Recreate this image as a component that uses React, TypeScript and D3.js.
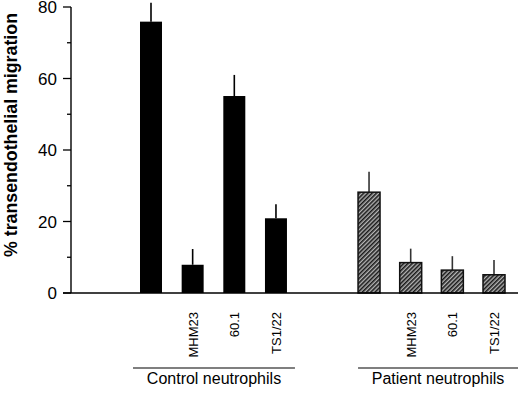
import React from "react";
import * as d3 from "d3";

const groups = ["Control neutrophils", "Patient neutrophils"];
const treatments = ["none", "MHM23", "60.1", "TS1/22"];
const treatmentLabels = ["", "MHM23", "60.1", "TS1/22"];
const controlValues = [75.9, 7.9, 55.1, 20.9];
const controlErrors = [5.3, 4.4, 5.9, 3.9];
const patientValues = [28.2, 8.5, 6.4, 5.1];
const patientErrors = [5.7, 3.9, 3.9, 4.1];
const yTicks = [0, 20, 40, 60, 80];
const yMinorTicks = [10, 30, 50, 70];

const W = 520;
const H = 393;
const FONT = "'Liberation Sans', Arial, Helvetica, sans-serif";

export default function App() {
  const y = d3.scaleLinear().domain([0, 80]).range([293, 7]);
  const axisX = 71;
  const outer = d3.scaleBand<string>().domain(groups).range([140, 505]).paddingInner(0.326).paddingOuter(0);
  const inner = d3
    .scaleBand<string>()
    .domain(treatments)
    .range([0, outer.bandwidth()])
    .paddingInner(0.472)
    .paddingOuter(0);

  const series = [
    { group: groups[0], values: controlValues, errors: controlErrors, fill: "#000", err: "#000" },
    { group: groups[1], values: patientValues, errors: patientErrors, fill: "url(#hatch)", err: "#333" },
  ];

  const underlineExt: [number, number][] = [
    [-7, 8],
    [0, 13],
  ];

  return (
    <svg
      width={W}
      height={H}
      style={{ position: "absolute", left: 0, top: 0, background: "#fff" }}
      fontFamily={FONT}
    >
      <defs>
        <pattern id="hatch" patternUnits="userSpaceOnUse" width={3} height={3} patternTransform="rotate(45)">
          <rect x={0} y={0} width={3} height={3} fill="#b4b4b4" />
          <line x1={0.8} y1={0} x2={0.8} y2={3} stroke="#111" strokeWidth={1.5} />
        </pattern>
      </defs>

      {/* y axis */}
      <line x1={axisX} x2={axisX} y1={y(0)} y2={y(80)} stroke="#000" strokeWidth={1.4} />
      {yTicks.map((t) => (
        <g key={t}>
          <line x1={axisX - 8} x2={axisX} y1={y(t)} y2={y(t)} stroke="#000" strokeWidth={1.3} />
          <text x={axisX - 14} y={y(t)} dy="0.38em" textAnchor="end" fontSize={17} fill="#000">
            {t}
          </text>
        </g>
      ))}
      {yMinorTicks.map((t) => (
        <line key={t} x1={axisX - 4} x2={axisX} y1={y(t)} y2={y(t)} stroke="#000" strokeWidth={1.3} />
      ))}
      <text
        transform={`translate(17, ${(12 + 258) / 2}) rotate(-90)`}
        textAnchor="middle"
        fontSize={17.8}
        fontWeight="bold"
        fill="#000"
      >
        % transendothelial migration
      </text>

      {/* bars */}
      {series.map((s, gi) => {
        const gx = outer(s.group)!;
        return (
          <g key={s.group}>
            {treatments.map((t, i) => {
              const bx = gx + inner(t)!;
              const bw = inner.bandwidth();
              const cx = bx + bw / 2;
              return (
                <g key={t}>
                  <line
                    x1={cx}
                    x2={cx}
                    y1={y(s.values[i])}
                    y2={y(s.values[i] + s.errors[i])}
                    stroke={s.err}
                    strokeWidth={1.6}
                  />
                  <rect
                    x={bx}
                    y={y(s.values[i])}
                    width={bw}
                    height={y(0) - y(s.values[i])}
                    fill={s.fill}
                    stroke="#111"
                    strokeWidth={gi === 1 ? 1.5 : 0}
                  />
                  {treatmentLabels[i] && (
                    <text
                      transform={`translate(${cx + 5}, 312) rotate(-90)`}
                      textAnchor="end"
                      fontSize={13}
                      fill="#000"
                    >
                      {treatmentLabels[i]}
                    </text>
                  )}
                </g>
              );
            })}
            <line
              x1={gx + underlineExt[gi][0]}
              x2={gx + outer.bandwidth() + underlineExt[gi][1]}
              y1={368}
              y2={368}
              stroke="#000"
              strokeWidth={1.2}
            />
            <text
              x={gx + outer.bandwidth() / 2 + (underlineExt[gi][0] + underlineExt[gi][1]) / 2}
              y={384}
              textAnchor="middle"
              fontSize={16}
              fill="#000"
            >
              {s.group}
            </text>
          </g>
        );
      })}

      {/* baseline */}
      <line x1={axisX - 8} x2={518} y1={y(0)} y2={y(0)} stroke="#000" strokeWidth={1.5} />
    </svg>
  );
}
